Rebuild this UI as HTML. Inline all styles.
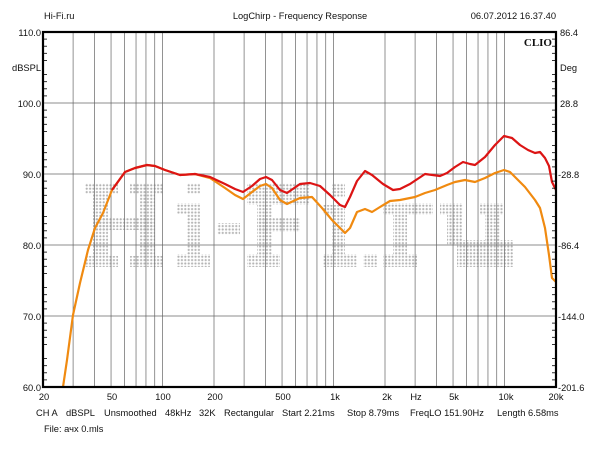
<!DOCTYPE html>
<html><head><style>
body{margin:0;background:#fff;}
svg text{font-family:"Liberation Sans",Arial,sans-serif;font-size:9.3px;fill:#111;}
</style></head><body>
<svg width="600" height="450" xmlns="http://www.w3.org/2000/svg">
<defs>
<pattern id="dots" x="0" y="0" width="3.4" height="3.4" patternUnits="userSpaceOnUse">
<circle cx="1.7" cy="1.7" r="1.1" fill="#b4b4b4"/></pattern>
</defs>
<rect width="600" height="450" fill="#fff"/>
<g fill="url(#dots)">
<rect x="85" y="183" width="33" height="11"/><rect x="93" y="194" width="15" height="62"/>
<rect x="93" y="218" width="62" height="12"/><rect x="130" y="183" width="33" height="11"/>
<rect x="140" y="194" width="15" height="62"/><rect x="85" y="256" width="33" height="11"/><rect x="130" y="256" width="33" height="11"/>
<rect x="187" y="183" width="13" height="11"/><rect x="177" y="203" width="23" height="11"/>
<rect x="187" y="214" width="13" height="40"/><rect x="177" y="254" width="33" height="13"/>
<rect x="217" y="223" width="23" height="12"/>
<rect x="247" y="183" width="63" height="22"/><rect x="257" y="205" width="15" height="50"/>
<rect x="257" y="218" width="43" height="14"/><rect x="247" y="254" width="33" height="13"/>
<rect x="332" y="183" width="13" height="14"/><rect x="323" y="205" width="22" height="10"/>
<rect x="332" y="215" width="13" height="40"/><rect x="323" y="254" width="34" height="13"/>
<rect x="363" y="254" width="14" height="13"/>
<rect x="383" y="203" width="50" height="12"/><rect x="393" y="215" width="14" height="40"/><rect x="383" y="254" width="34" height="13"/>
<rect x="440" y="203" width="23" height="12"/><rect x="447" y="215" width="15" height="30"/>
<rect x="480" y="203" width="23" height="12"/><rect x="485" y="215" width="15" height="30"/>
<rect x="457" y="240" width="56" height="27"/>
</g>
<g id="grid" stroke="#777" stroke-width="0.8"></g>
<g stroke="#666" stroke-width="0.8">
<line x1="43" y1="103" x2="556" y2="103"/><line x1="43" y1="174" x2="556" y2="174"/>
<line x1="43" y1="245" x2="556" y2="245"/><line x1="43" y1="316" x2="556" y2="316"/>
</g>
<polyline fill="none" stroke="#f08a10" stroke-width="2.2" stroke-linejoin="round" points="63,387 67,360 73,315 80,283 88,250 95,228 103,213 112,190 125,172 135,168 147,165 155,166 165,170 180,175 195,174 210,178 225,188 235,195 243,199 252,192 260,186 266,184 272,188 280,200 287,204 300,198 312,197 322,208 332,220 340,228 345,233 350,228 357,212 365,209 372,212 380,207 390,201 400,200 415,197 425,193 435,190 447,185 455,182 465,180 475,182 485,178 495,173 504,170 510,172 518,180 525,187 535,200 540,208 545,228 549,255 552,278 556,282"/>
<polyline fill="none" stroke="#dc1414" stroke-width="2.2" stroke-linejoin="round" points="112,190 125,172 135,168 147,165 155,166 165,170 180,175 195,174 210,177 225,184 235,189 243,192 252,186 260,179 266,177 272,180 280,190 287,193 300,184 310,183 320,186 330,195 340,205 345,207 350,197 357,181 365,171 372,175 383,184 393,190 400,189 410,184 425,174 440,176 447,173 455,167 463,162 470,164 475,165 485,157 495,145 504,136 512,138 520,145 528,150 535,153 540,152 545,158 549,166 552,182 556,190"/>
<rect x="43" y="32" width="513" height="355" fill="none" stroke="#000" stroke-width="2.2"/>
<g id="ticks" stroke="#000" stroke-width="0.8"></g>
<text x="44" y="19">Hi-Fi.ru</text>
<text x="300" y="19" text-anchor="middle">LogChirp - Frequency Response</text>
<text x="556" y="19" text-anchor="end">06.07.2012 16.37.40</text>
<text x="552" y="46" text-anchor="end" style="font-family:'Liberation Serif',serif;font-weight:bold;font-size:11px">CLIO</text>
<g text-anchor="end">
<text x="41" y="36">110.0</text><text x="41" y="71">dBSPL</text><text x="41" y="107">100.0</text>
<text x="41" y="178">90.0</text><text x="41" y="249">80.0</text><text x="41" y="320">70.0</text><text x="41" y="391">60.0</text>
</g>
<g>
<text x="560" y="36">86.4</text><text x="560" y="71">Deg</text><text x="560" y="107">28.8</text>
<text x="558" y="178">-28.8</text><text x="558" y="249">-86.4</text><text x="558" y="320">-144.0</text><text x="558" y="391">-201.6</text>
</g>
<g text-anchor="middle">
<text x="44" y="400">20</text><text x="112" y="400">50</text><text x="163" y="400">100</text><text x="215" y="400">200</text>
<text x="283" y="400">500</text><text x="335" y="400">1k</text><text x="387" y="400">2k</text><text x="416" y="400">Hz</text>
<text x="454" y="400">5k</text><text x="506" y="400">10k</text><text x="556" y="400">20k</text>
</g>
<text x="36" y="416">CH A</text><text x="66" y="416">dBSPL</text><text x="104" y="416">Unsmoothed</text>
<text x="165" y="416">48kHz</text><text x="199" y="416">32K</text><text x="224" y="416">Rectangular</text>
<text x="282" y="416">Start 2.21ms</text><text x="347" y="416">Stop 8.79ms</text>
<text x="410" y="416">FreqLO 151.90Hz</text><text x="497" y="416">Length 6.58ms</text>
<text x="44" y="432">File: ачх 0.mls</text>
<script>
var g=document.getElementById('grid'),t=document.getElementById('ticks'),ns='http://www.w3.org/2000/svg';
function ln(p,a,b,c,d){var l=document.createElementNS(ns,'line');l.setAttribute('x1',a);l.setAttribute('y1',b);l.setAttribute('x2',c);l.setAttribute('y2',d);p.appendChild(l);}
[10,100,1000,10000].forEach(function(dec){for(var m=1;m<10;m++){var f=dec*m;if(f<=20||f>=20000)continue;var x=43+171*Math.log10(f/20);ln(g,x,32,x,387);}});
for(var i=0;i<=50;i++){var y=32+i*7.1;var w=(i%5==0)?0:4;ln(t,43,y,43+w,y);ln(t,556,y,556-w,y);}
</script>
</svg>
</body></html>
